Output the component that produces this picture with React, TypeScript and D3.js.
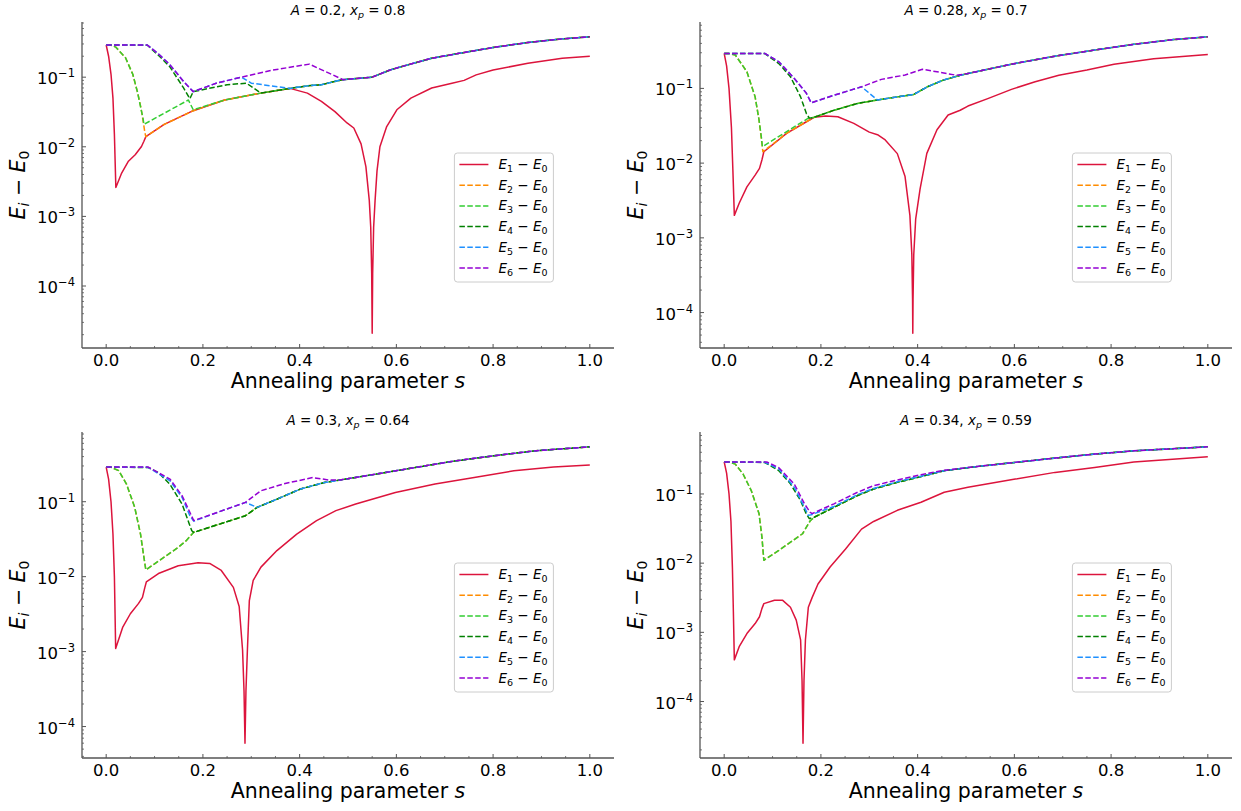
import React from 'react';
import * as d3 from 'd3';

type Pt = [number, number];

const W = 1241;
const H = 811;

const seriesLabels = ['1', '2', '3', '4', '5', '6'];
const seriesColors = ['#dc143c', '#ff8c00', '#32cd32', '#008000', '#1e90ff', '#9400d3'];
const seriesDashed = [false, true, true, true, true, true];

const titleA = ['0.2', '0.28', '0.3', '0.34'];
const titleXp = ['0.8', '0.7', '0.64', '0.59'];

const xTicks = [0, 0.2, 0.4, 0.6, 0.8, 1.0];

// ---------- Panel 1: A = 0.2, x_p = 0.8 ----------
const p1Lower: Pt[] = [[0.082, 0.014], [0.12, 0.021], [0.18, 0.033], [0.245, 0.047], [0.32, 0.059], [0.38, 0.069]];
const p1Mid: Pt[] = [[0.416, 0.075], [0.445, 0.078], [0.488, 0.092], [0.512, 0.095], [0.55, 0.1]];
const p1Upper: Pt[] = [[0.587, 0.127], [0.623, 0.15], [0.673, 0.187], [0.73, 0.22], [0.8, 0.267], [0.872, 0.315], [0.943, 0.355], [1, 0.38]];
const p1E1: Pt[] = [
  [0, 0.29], [0.005, 0.2], [0.01, 0.11], [0.014, 0.05], [0.017, 0.015], [0.02, 0.0026], [0.032, 0.0042], [0.046, 0.0062],
  [0.06, 0.0077], [0.073, 0.0101], [0.078, 0.012], ...p1Lower,
  [0.416, 0.059], [0.445, 0.045], [0.473, 0.032], [0.498, 0.022], [0.512, 0.0186], [0.527, 0.011], [0.537, 0.0052],
  [0.544, 0.0017], [0.547, 0.0007], [0.549, 0.00015], [0.55, 0.000021], [0.551, 0.00015], [0.553, 0.0007], [0.556, 0.0017],
  [0.56, 0.0045], [0.566, 0.01], [0.58, 0.0195], [0.601, 0.034], [0.63, 0.05], [0.673, 0.07], [0.715, 0.082], [0.74, 0.09],
  [0.765, 0.108], [0.8, 0.127], [0.872, 0.158], [0.943, 0.187], [1, 0.2],
];
const p1E2: Pt[] = [
  [0, 0.29], [0.01, 0.288], [0.02, 0.27], [0.04, 0.19], [0.055, 0.11], [0.065, 0.06], [0.072, 0.036], [0.077, 0.022],
  [0.08, 0.016], ...p1Lower, ...p1Mid, ...p1Upper,
];
const p1E3: Pt[] = [
  [0, 0.29], [0.01, 0.288], [0.02, 0.27], [0.04, 0.19], [0.055, 0.11], [0.065, 0.06], [0.072, 0.035], [0.076, 0.026],
  [0.078, 0.021], [0.17, 0.047], [0.18, 0.034], [0.245, 0.047], [0.32, 0.059], [0.38, 0.069], ...p1Mid, ...p1Upper,
];
const p1E4: Pt[] = [
  [0, 0.29], [0.085, 0.288], [0.11, 0.2], [0.132, 0.14], [0.16, 0.07], [0.173, 0.049], [0.18, 0.062], [0.25, 0.078],
  [0.29, 0.082], [0.32, 0.059], [0.38, 0.069], ...p1Mid, ...p1Upper,
];
const p1E5: Pt[] = [
  [0, 0.29], [0.085, 0.29], [0.11, 0.21], [0.132, 0.15], [0.16, 0.087], [0.18, 0.062], [0.23, 0.083], [0.28, 0.1],
  [0.3, 0.082], [0.38, 0.069], ...p1Mid, ...p1Upper,
];
const p1E6: Pt[] = [
  [0, 0.29], [0.085, 0.29], [0.11, 0.21], [0.132, 0.15], [0.16, 0.087], [0.18, 0.062], [0.23, 0.083], [0.28, 0.1],
  [0.34, 0.125], [0.42, 0.154], [0.49, 0.092], [0.512, 0.095], [0.55, 0.1], ...p1Upper,
];

// ---------- Panel 2: A = 0.28, x_p = 0.7 ----------
const p2Lower: Pt[] = [[0.129, 0.025], [0.17, 0.0358], [0.186, 0.041]];
const p2Mid: Pt[] = [[0.227, 0.051], [0.276, 0.063], [0.317, 0.07], [0.358, 0.077], [0.392, 0.083], [0.42, 0.105], [0.453, 0.129], [0.488, 0.15], [0.504, 0.158]];
const p2Upper: Pt[] = [[0.537, 0.176], [0.602, 0.216], [0.684, 0.27], [0.766, 0.326], [0.847, 0.389], [0.929, 0.45], [1, 0.49]];
const p2E1: Pt[] = [
  [0, 0.294], [0.005, 0.2], [0.01, 0.1], [0.015, 0.03], [0.018, 0.008], [0.021, 0.002], [0.031, 0.0029], [0.047, 0.0048],
  [0.064, 0.0069], [0.073, 0.0085], [0.078, 0.011], [0.082, 0.0142], ...p2Lower,
  [0.21, 0.0426], [0.235, 0.0417], [0.268, 0.034], [0.3, 0.026], [0.317, 0.024], [0.333, 0.0204], [0.358, 0.0134],
  [0.374, 0.0066], [0.384, 0.002], [0.388, 0.0006], [0.3895, 0.00015], [0.39, 0.000053], [0.3905, 0.00015], [0.392, 0.0006],
  [0.396, 0.0018], [0.405, 0.0045], [0.419, 0.0135], [0.44, 0.028], [0.463, 0.044], [0.488, 0.051], [0.504, 0.058],
  [0.545, 0.073], [0.594, 0.097], [0.643, 0.123], [0.692, 0.15], [0.75, 0.176], [0.806, 0.211], [0.888, 0.25], [1, 0.285],
];
const p2E2: Pt[] = [
  [0, 0.294], [0.01, 0.292], [0.023, 0.28], [0.047, 0.167], [0.064, 0.077], [0.072, 0.038], [0.078, 0.0184], [0.08, 0.0142],
  ...p2Lower, ...p2Mid, ...p2Upper,
];
const p2E3: Pt[] = [
  [0, 0.294], [0.01, 0.292], [0.023, 0.28], [0.047, 0.167], [0.064, 0.077], [0.072, 0.038], [0.077, 0.022], [0.079, 0.0166],
  [0.174, 0.04], [0.186, 0.041], ...p2Mid, ...p2Upper,
];
const p2E4: Pt[] = [
  [0, 0.294], [0.084, 0.292], [0.113, 0.215], [0.137, 0.143], [0.158, 0.077], [0.17, 0.046], [0.176, 0.04], [0.186, 0.041],
  ...p2Mid, ...p2Upper,
];
const p2E5: Pt[] = [
  [0, 0.294], [0.084, 0.294], [0.113, 0.227], [0.145, 0.136], [0.17, 0.086], [0.18, 0.064], [0.227, 0.081], [0.284, 0.105],
  [0.317, 0.07], [0.358, 0.077], [0.392, 0.083], [0.42, 0.105], [0.453, 0.129], [0.488, 0.15], [0.504, 0.158], ...p2Upper,
];
const p2E6: Pt[] = [
  [0, 0.294], [0.084, 0.294], [0.113, 0.227], [0.145, 0.136], [0.17, 0.086], [0.18, 0.064], [0.227, 0.081], [0.284, 0.105],
  [0.325, 0.132], [0.374, 0.151], [0.41, 0.18], [0.44, 0.167], [0.48, 0.15], [0.504, 0.158], ...p2Upper,
];

// ---------- Panel 3: A = 0.3, x_p = 0.64 ----------
const p3Mid: Pt[] = [[0.181, 0.039], [0.288, 0.065], [0.312, 0.084], [0.353, 0.108], [0.402, 0.148], [0.451, 0.18], [0.484, 0.195]];
const p3Upper: Pt[] = [[0.557, 0.233], [0.639, 0.286], [0.721, 0.35], [0.802, 0.41], [0.884, 0.476], [1, 0.54]];
const p3E1: Pt[] = [
  [0, 0.29], [0.005, 0.2], [0.01, 0.1], [0.014, 0.037], [0.017, 0.01], [0.0196, 0.0011], [0.034, 0.0021], [0.05, 0.0032],
  [0.067, 0.0044], [0.075, 0.0053], [0.08, 0.0072], [0.083, 0.0085], [0.108, 0.011], [0.149, 0.014], [0.19, 0.0153],
  [0.214, 0.015], [0.238, 0.0121], [0.263, 0.0072], [0.275, 0.004], [0.282, 0.00105], [0.285, 0.0003], [0.287, 0.00006],
  [0.289, 0.0003], [0.292, 0.00105], [0.296, 0.0048], [0.304, 0.0089], [0.32, 0.0134], [0.353, 0.0223], [0.394, 0.037],
  [0.435, 0.056], [0.475, 0.076], [0.516, 0.093], [0.598, 0.133], [0.68, 0.172], [0.761, 0.21], [0.843, 0.258],
  [0.925, 0.29], [1, 0.31],
];
const p3E2: Pt[] = [
  [0, 0.29], [0.01, 0.288], [0.026, 0.26], [0.042, 0.172], [0.059, 0.084], [0.071, 0.037], [0.077, 0.02], [0.082, 0.0123],
  [0.149, 0.0246], [0.165, 0.03], ...p3Mid, ...p3Upper,
];
const p3E3: Pt[] = [
  [0, 0.29], [0.01, 0.288], [0.026, 0.26], [0.042, 0.172], [0.059, 0.084], [0.071, 0.037], [0.077, 0.02], [0.082, 0.0123],
  [0.149, 0.0246], [0.165, 0.03], ...p3Mid, ...p3Upper,
];
const p3E4: Pt[] = [
  [0, 0.29], [0.087, 0.285], [0.108, 0.245], [0.132, 0.17], [0.157, 0.093], [0.172, 0.05], [0.177, 0.041], ...p3Mid, ...p3Upper,
];
const p3E5: Pt[] = [
  [0, 0.29], [0.087, 0.287], [0.132, 0.19], [0.157, 0.114], [0.173, 0.065], [0.181, 0.055], [0.23, 0.072], [0.288, 0.098],
  [0.312, 0.084], [0.353, 0.108], [0.402, 0.148], [0.451, 0.18], [0.484, 0.195], ...p3Upper,
];
const p3E6: Pt[] = [
  [0, 0.29], [0.087, 0.29], [0.132, 0.2], [0.157, 0.12], [0.181, 0.056], [0.23, 0.072], [0.288, 0.098], [0.32, 0.14],
  [0.37, 0.175], [0.427, 0.21], [0.46, 0.195], [0.484, 0.195], ...p3Upper,
];

// ---------- Panel 4: A = 0.34, x_p = 0.59 ----------
const p4Mid: Pt[] = [[0.186, 0.046], [0.227, 0.064], [0.276, 0.095], [0.309, 0.118], [0.358, 0.147], [0.407, 0.178], [0.455, 0.217]];
const p4Upper: Pt[] = [[0.52, 0.248], [0.602, 0.286], [0.684, 0.33], [0.766, 0.377], [0.847, 0.42], [1, 0.48]];
const p4E1: Pt[] = [
  [0, 0.29], [0.005, 0.2], [0.01, 0.1], [0.014, 0.04], [0.017, 0.0087], [0.019, 0.002], [0.021, 0.0004], [0.031, 0.00062],
  [0.047, 0.00096], [0.064, 0.00134], [0.073, 0.00168], [0.078, 0.0022], [0.082, 0.0026], [0.104, 0.0029], [0.121, 0.0029],
  [0.137, 0.0023], [0.149, 0.0015], [0.158, 0.00078], [0.161, 0.0002], [0.163, 0.000025], [0.165, 0.0002], [0.168, 0.00078],
  [0.174, 0.0023], [0.182, 0.0032], [0.194, 0.005], [0.219, 0.0088], [0.251, 0.016], [0.284, 0.031], [0.309, 0.04],
  [0.358, 0.058], [0.407, 0.076], [0.455, 0.106], [0.504, 0.125], [0.602, 0.164], [0.684, 0.205], [0.766, 0.242],
  [0.847, 0.29], [1, 0.345],
];
const p4E2: Pt[] = [
  [0, 0.29], [0.01, 0.288], [0.023, 0.27], [0.039, 0.194], [0.056, 0.112], [0.072, 0.052], [0.078, 0.024], [0.082, 0.011],
  [0.113, 0.0153], [0.162, 0.0266], [0.178, 0.041], ...p4Mid, ...p4Upper,
];
const p4E3: Pt[] = [
  [0, 0.29], [0.01, 0.288], [0.023, 0.27], [0.039, 0.194], [0.056, 0.112], [0.072, 0.052], [0.078, 0.024], [0.082, 0.011],
  [0.113, 0.0153], [0.162, 0.0266], [0.178, 0.041], ...p4Mid, ...p4Upper,
];
const p4E4: Pt[] = [
  [0, 0.29], [0.084, 0.285], [0.113, 0.217], [0.137, 0.14], [0.158, 0.08], [0.17, 0.051], [0.176, 0.044], ...p4Mid, ...p4Upper,
];
const p4E5: Pt[] = [
  [0, 0.29], [0.084, 0.287], [0.113, 0.23], [0.145, 0.125], [0.166, 0.064], [0.174, 0.049], [0.18, 0.05], [0.227, 0.066],
  [0.276, 0.098], [0.309, 0.12], [0.358, 0.15], [0.407, 0.18], [0.455, 0.217], ...p4Upper,
];
const p4E6: Pt[] = [
  [0, 0.29], [0.088, 0.29], [0.113, 0.24], [0.145, 0.139], [0.166, 0.072], [0.178, 0.054], [0.182, 0.052], [0.227, 0.072],
  [0.276, 0.106], [0.309, 0.132], [0.358, 0.159], [0.407, 0.19], [0.455, 0.22], ...p4Upper,
];

const panelSeries: Pt[][][] = [
  [p1E1, p1E2, p1E3, p1E4, p1E5, p1E6],
  [p2E1, p2E2, p2E3, p2E4, p2E5, p2E6],
  [p3E1, p3E2, p3E3, p3E4, p3E5, p3E6],
  [p4E1, p4E2, p4E3, p4E4, p4E5, p4E6],
];

// layout
const AX_W = 532;
const AX_H = 326;
const origins: [number, number][] = [[82, 22], [700, 22], [82, 432], [700, 432]];
const FONT = "'DejaVu Sans', sans-serif";
const SPINE = '#555555';

function Panel({ idx }: { idx: number }) {
  const [ox, oy] = origins[idx];
  const series = panelSeries[idx];
  const x = d3.scaleLinear().domain([-0.05, 1.05]).range([ox, ox + AX_W]);
  const allV = series.flat().map((d) => d[1]);
  const lmin = Math.log10(d3.min(allV) as number);
  const lmax = Math.log10(d3.max(allV) as number);
  const R = lmax - lmin;
  const y = d3
    .scaleLog()
    .domain([Math.pow(10, lmin - 0.05 * R), Math.pow(10, lmax + 0.05 * R)])
    .range([oy + AX_H, oy]);
  const line = d3
    .line<Pt>()
    .x((d) => x(d[0]))
    .y((d) => y(d[1]));

  const [d0, d1] = y.domain();
  const majors: number[] = [];
  const minors: number[] = [];
  for (let k = Math.floor(Math.log10(d0)); k <= Math.ceil(Math.log10(d1)); k++) {
    for (let m = 1; m <= 9; m++) {
      const v = m * Math.pow(10, k);
      if (v < d0 || v > d1) continue;
      if (m === 1) majors.push(k);
      else minors.push(v);
    }
  }
  const xMinor = d3.range(0, 1.0001, 0.05).filter((v) => Math.abs(Math.round(v * 5) - v * 5) > 1e-6);

  const bottom = oy + AX_H;
  const lgX = x(0.72);
  const lgY = oy + 131;

  return (
    <g>
      {/* title */}
      <text x={ox + AX_W / 2} y={oy - 7} textAnchor="middle" fontSize={13.5} fontFamily={FONT}>
        <tspan fontStyle="italic">A</tspan>
        <tspan>{` = ${titleA[idx]}, `}</tspan>
        <tspan fontStyle="italic">x</tspan>
        <tspan fontStyle="italic" fontSize={9.5} dy={3}>p</tspan>
        <tspan dy={-3}>{` = ${titleXp[idx]}`}</tspan>
      </text>

      {/* series */}
      {series.map((s, i) => (
        <path
          key={i}
          d={line(s) as string}
          fill="none"
          stroke={seriesColors[i]}
          strokeWidth={1.5}
          strokeDasharray={seriesDashed[i] ? '5.5 2.4' : undefined}
          strokeLinejoin="round"
        />
      ))}

      {/* spines */}
      <line x1={ox} y1={oy} x2={ox} y2={bottom} stroke={SPINE} strokeWidth={1.3} />
      <line x1={ox} y1={bottom} x2={ox + AX_W} y2={bottom} stroke={SPINE} strokeWidth={1.3} />

      {/* y ticks */}
      {majors.map((k) => (
        <g key={'M' + k}>
          <line x1={ox} x2={ox + 4} y1={y(Math.pow(10, k))} y2={y(Math.pow(10, k))} stroke={SPINE} strokeWidth={1} />
          <text x={ox - 7} y={y(Math.pow(10, k)) + 7} textAnchor="end" fontSize={16.5} fontFamily={FONT}>
            10
            <tspan fontSize={11.5} dy={-7}>{'\u2212' + Math.abs(k)}</tspan>
          </text>
        </g>
      ))}
      {minors.map((v, i) => (
        <line key={'m' + i} x1={ox} x2={ox + 2} y1={y(v)} y2={y(v)} stroke={SPINE} strokeWidth={0.8} />
      ))}

      {/* x ticks */}
      {xTicks.map((v) => (
        <g key={'x' + v}>
          <line x1={x(v)} x2={x(v)} y1={bottom} y2={bottom - 4} stroke={SPINE} strokeWidth={1} />
          <text x={x(v)} y={bottom + 18} textAnchor="middle" fontSize={16.5} fontFamily={FONT}>
            {d3.format('.1f')(v)}
          </text>
        </g>
      ))}
      {xMinor.map((v, i) => (
        <line key={'xm' + i} x1={x(v)} x2={x(v)} y1={bottom} y2={bottom - 2} stroke={SPINE} strokeWidth={0.8} />
      ))}

      {/* axis labels */}
      <text x={ox + AX_W / 2} y={bottom + 40} textAnchor="middle" fontSize={20.5} fontFamily={FONT}>
        Annealing parameter <tspan fontStyle="italic">s</tspan>
      </text>
      <text
        transform={`translate(${ox - 57},${oy + AX_H / 2}) rotate(-90)`}
        textAnchor="middle"
        fontSize={20.5}
        fontFamily={FONT}
      >
        <tspan fontStyle="italic">E</tspan>
        <tspan fontStyle="italic" fontSize={14} dy={4}>i</tspan>
        <tspan dy={-4}>{' \u2212 '}</tspan>
        <tspan fontStyle="italic">E</tspan>
        <tspan fontSize={14} dy={4}>0</tspan>
      </text>

      {/* legend */}
      <rect x={lgX} y={lgY} width={99} height={129} rx={3} fill="#ffffff" fillOpacity={0.8} stroke="#cccccc" strokeWidth={1} />
      {seriesLabels.map((lab, i) => {
        const ry = lgY + 11.5 + i * 20.7;
        return (
          <g key={'lg' + i}>
            <line
              x1={lgX + 5}
              x2={lgX + 34}
              y1={ry}
              y2={ry}
              stroke={seriesColors[i]}
              strokeWidth={1.5}
              strokeDasharray={seriesDashed[i] ? '5.5 2.4' : undefined}
            />
            <text x={lgX + 44} y={ry + 4.5} fontSize={13.5} fontFamily={FONT}>
              <tspan fontStyle="italic">E</tspan>
              <tspan fontSize={9.5} dy={3}>{lab}</tspan>
              <tspan dy={-3}>{' \u2212 '}</tspan>
              <tspan fontStyle="italic">E</tspan>
              <tspan fontSize={9.5} dy={3}>0</tspan>
            </text>
          </g>
        );
      })}
    </g>
  );
}

export default function App() {
  return (
    <svg
      width={W}
      height={H}
      viewBox={`0 0 ${W} ${H}`}
      style={{ position: 'absolute', left: 0, top: 0, background: '#ffffff' }}
    >
      <rect x={0} y={0} width={W} height={H} fill="#ffffff" />
      {[0, 1, 2, 3].map((i) => (
        <Panel key={i} idx={i} />
      ))}
    </svg>
  );
}
